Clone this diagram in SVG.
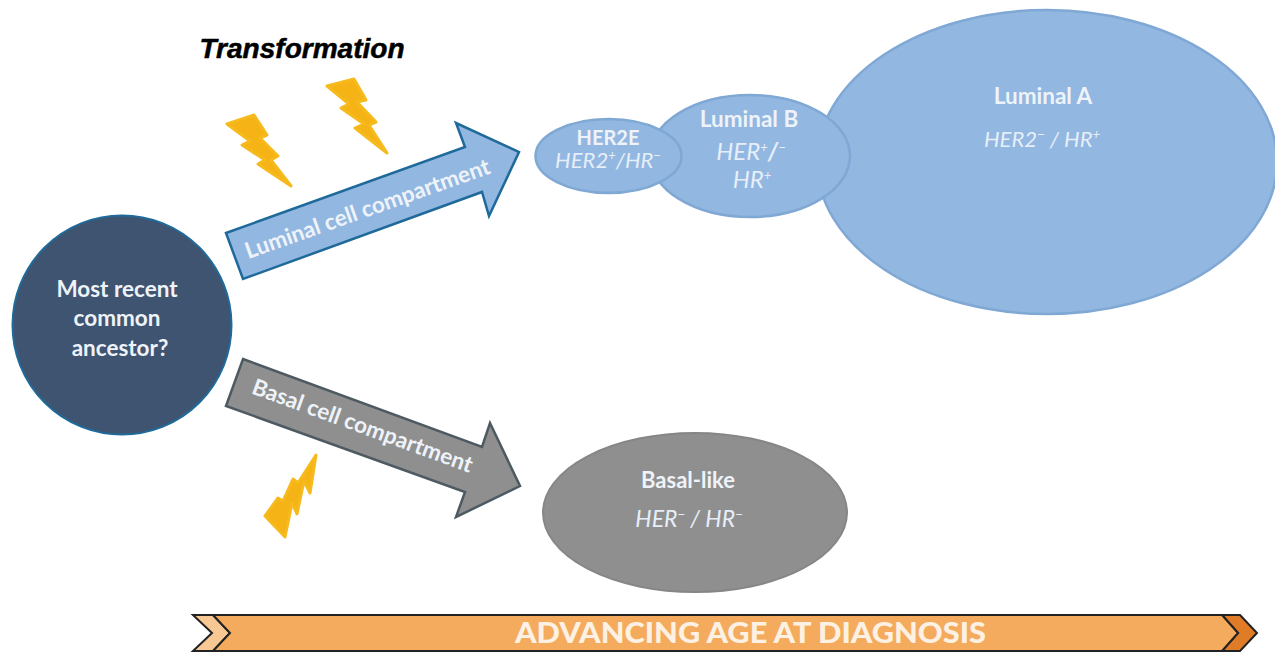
<svg xmlns="http://www.w3.org/2000/svg" width="1275" height="652" viewBox="0 0 1275 652">
<style>
.t{font-family:Lato,"Open Sans","Liberation Sans",sans-serif;fill:#eef3f9;text-anchor:middle}
.b{font-weight:700}
.h{font-weight:700;font-size:22.5px}
.i{font-style:italic;font-size:22px;fill:#e6eef8}
.sup{font-size:13px}
.lum{fill:#92b7e1;stroke:#7fa8d4;stroke-width:2.5}
.bolt{fill:#f5b316;stroke:#f6ba1c;stroke-width:3;stroke-linejoin:round}
</style>
<rect width="1275" height="652" fill="#fff"/>
<g id="luminal-a"><ellipse class="lum" cx="1047" cy="162" rx="230" ry="152"/>
<text class="t h" x="1043" y="104">Luminal A</text>
<text class="t i" x="1042" y="147">HER2<tspan class="sup" dy="-8">−</tspan><tspan dy="8"> / HR</tspan><tspan class="sup" dy="-8">+</tspan></text></g>
<g id="luminal-b"><ellipse class="lum" cx="750" cy="156" rx="100" ry="61"/>
<text class="t h" x="749" y="127">Luminal B</text>
<text class="t i" style="font-size:24px" x="751" y="160">HER<tspan class="sup" dy="-8">+</tspan><tspan dy="8" font-weight="700">/</tspan><tspan class="sup" dy="-8">−</tspan></text>
<text class="t i" style="font-size:24px" x="752" y="188">HR<tspan class="sup" dy="-8">+</tspan></text></g>
<g id="her2e"><ellipse class="lum" cx="608.5" cy="156" rx="73" ry="37"/>
<text class="t h" style="font-size:20px" x="608" y="145">HER2E</text>
<text class="t i" x="608" y="168">HER2<tspan class="sup" dy="-8">+</tspan><tspan dy="8">/HR</tspan><tspan class="sup" dy="-8">−</tspan></text></g>
<g id="basal-like"><ellipse cx="695" cy="512.5" rx="152" ry="79.5" fill="#8f8f8f" stroke="#868686" stroke-width="2"/>
<text class="t h" style="font-size:22px" x="688" y="488">Basal-like</text>
<text class="t i" style="font-size:23px" x="689" y="527">HER<tspan class="sup" dy="-8">−</tspan><tspan dy="8"> / HR</tspan><tspan class="sup" dy="-8">−</tspan></text></g>
<g id="ancestor"><circle cx="122" cy="325" r="109.5" fill="#3f5470" stroke="#1f6a9a" stroke-width="2"/>
<text class="t b" font-size="22.5" x="117" y="297">Most recent</text>
<text class="t b" font-size="22.5" x="117" y="326">common</text>
<text class="t b" font-size="22.5" x="120" y="356">ancestor?</text></g>
<g id="connectors">
<g id="luminal-arrow"><polygon points="226,233 465,147 456,123 519,152 489,216 482,192 243,279" fill="#92b7e1" stroke="#1f6a9a" stroke-width="2.5"/>
<text class="t b" font-size="22.5" transform="translate(370,216) rotate(-19.5)">Luminal cell compartment</text></g>
<g id="basal-arrow"><polygon points="243,359 482,447 490,423 520,486 456,517 465,492 226,406" fill="#8f8f8f" stroke="#4d5a62" stroke-width="2.5"/>
<text class="t b" font-size="22.5" transform="translate(360,433) rotate(20)">Basal cell compartment</text></g>
</g>
<g id="bolt-1"><polygon class="bolt" points="227,124 254,115 267,135 260,138 278,156 271,160 291,186 258,164 265,160 242,145 250,141"/></g>
<g id="bolt-2"><polygon class="bolt" points="327,86 354,79 366,100 357,102 376,122 369,125 387,153 355,128 364,124 341,108 349,104"/></g>
<g id="bolt-3"><polygon class="bolt" points="316,455 310,493 304,481 297,514 292,503 285,537 265,516 278,498 283,501 293,479 298,483"/></g>
<text id="transformation" x="302" y="58" font-family="Liberation Sans,Arial,sans-serif" font-weight="700" font-style="italic" font-size="27" text-anchor="middle" fill="#000" stroke="#000" stroke-width="0.5" textLength="205" lengthAdjust="spacingAndGlyphs">Transformation</text>
<g id="age-banner">
<polygon points="193,615 213,615 230,633 213,651 193,651 212,633" fill="#f8c894" stroke="#222" stroke-width="2"/>
<polygon points="1222,615 1240,615 1257,633 1240,651 1222,651 1238,633" fill="#e07b28" stroke="#222" stroke-width="2"/>
<polygon points="213,615 1222,615 1238,633 1222,651 213,651 230,633" fill="#f4ab5d" stroke="#222" stroke-width="2"/>
<text x="750.5" y="643" font-family="Lato,'Open Sans',sans-serif" font-weight="900" font-size="28" text-anchor="middle" fill="#fdf1e4" textLength="471" lengthAdjust="spacingAndGlyphs">ADVANCING AGE AT DIAGNOSIS</text>
</g>
</svg>
